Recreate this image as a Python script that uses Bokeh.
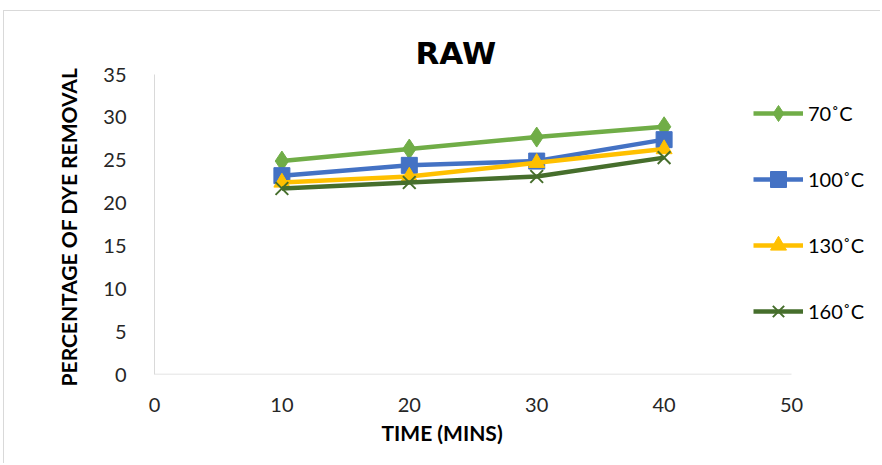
from bokeh.plotting import figure
from bokeh.models import Legend, LegendItem, FixedTicker, Range1d, Title
from bokeh.embed import file_html
from bokeh.resources import INLINE

time_min = [10, 20, 30, 40]
t70 = [24.9, 26.3, 27.7, 28.9]
t100 = [23.2, 24.4, 24.9, 27.4]
t130 = [22.4, 23.1, 24.7, 26.3]
t160 = [21.7, 22.4, 23.1, 25.3]
labels = ["70˚C", "100˚C", "130˚C", "160˚C"]
x_ticks = [0, 10, 20, 30, 40, 50]
y_ticks = [0, 5, 10, 15, 20, 25, 30, 35]

FONT = "Lato"

# frame runs to the right edge so the legend (which overlaps the axis end) is not clipped
x_end = x_ticks[-1] * 727.0 / 637.0

p = figure(width=877, height=453, output_backend="svg", toolbar_location=None,
           x_range=Range1d(x_ticks[0], x_end), y_range=Range1d(y_ticks[0], y_ticks[-1]),
           min_border_left=150, min_border_right=0, min_border_top=63, min_border_bottom=90,
           styles={"margin-left": "3px", "margin-top": "10px",
                   "border-left": "1px solid #d9d9d9", "border-top": "1px solid #d9d9d9"})
p.outline_line_color = None
p.grid.visible = False

p.title.text = "RAW"
p.title.align = "left"
p.title.text_font = "DejaVu Sans"
p.title.text_font_style = "bold"
p.title.text_font_size = "31px"
p.title.text_color = "#000000"
p.title.offset = 261
p.title.standoff = 8

for ax in (p.xaxis[0], p.yaxis[0]):
    ax.major_tick_line_color = None
    ax.minor_tick_line_color = None
    ax.major_label_text_font = FONT
    ax.major_label_text_font_size = "20px"
    ax.major_label_text_color = "#262626"
    ax.axis_label_text_font = FONT
    ax.axis_label_text_font_style = "bold"
    ax.axis_label_text_font_size = "21px"
    ax.axis_label_text_color = "#000000"

p.yaxis.axis_line_color = "#d9d9d9"
p.xaxis.axis_line_color = None
p.xaxis.ticker = FixedTicker(ticks=x_ticks)
p.yaxis.ticker = FixedTicker(ticks=y_ticks)
p.yaxis.axis_label = "PERCENTAGE  OF DYE REMOVAL"
p.xaxis.major_label_standoff = 17
p.yaxis.major_label_standoff = 22
p.yaxis.axis_label_standoff = 19

# x axis title, positioned like the reference (centred under the 0-50 axis)
xtitle = Title(text="TIME (MINS)", align="left", offset=227, standoff=7,
               text_font=FONT, text_font_style="bold", text_font_size="21px",
               text_color="#000000")
p.add_layout(xtitle, "below")

# x axis baseline only from first to last tick
p.line([x_ticks[0], x_ticks[-1]], [y_ticks[0], y_ticks[0]], line_color="#d9d9d9", line_width=1.5)

series = [
    (t70, "#70AD47", "diamond", 20),
    (t100, "#4472C4", "square", 16),
    (t130, "#FFC000", "triangle", 16),
    (t160, "#466E2C", "x", 18),
]
items = []
for (vals, col, mk, sz), lab in zip(series, labels):
    ln = p.line(time_min, vals, line_color=col, line_width=4.5)
    if mk == "x":
        sc = p.scatter(time_min, vals, marker=mk, size=sz, line_color=col, line_width=2)
    else:
        sc = p.scatter(time_min, vals, marker=mk, size=sz, fill_color=col, line_color=col)
    items.append(LegendItem(label=lab, renderers=[ln, sc]))

legend = Legend(items=items, location=(599, 43), orientation="vertical",
                glyph_width=50, glyph_height=40, spacing=26, label_standoff=5,
                label_text_font=FONT, label_text_font_size="20px",
                label_text_color="#000000",
                border_line_color=None, background_fill_alpha=0,
                padding=0, margin=0)
p.add_layout(legend, "center")

open("out.html", "w").write(file_html(p, INLINE))
